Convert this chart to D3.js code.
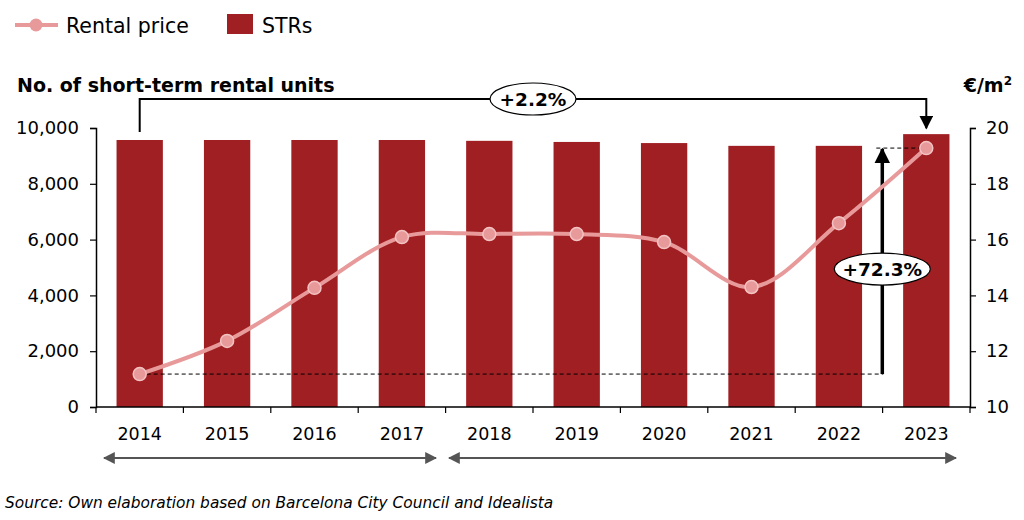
<!DOCTYPE html>
<html>
<head>
<meta charset="utf-8">
<script src="https://d3js.org/d3.v7.min.js"></script>
<style>
  body { margin: 0; background: #fff; }
  svg { font-family: "DejaVu Sans", sans-serif; }
</style>
</head>
<body>
<div id="chart"></div>
<script>
// Data
const years = ["2014", "2015", "2016", "2017", "2018", "2019", "2020", "2021", "2022", "2023"];
const strUnits = [9570, 9570, 9570, 9570, 9540, 9500, 9460, 9360, 9360, 9780];
const rentalPrice = [11.18, 12.37, 14.27, 16.09, 16.2, 16.2, 15.91, 14.3, 16.59, 19.28];
const leftTicks = [0, 2000, 4000, 6000, 8000, 10000];
const rightTicks = [10, 12, 14, 16, 18, 20];

const width = 1024, height = 520;
const margin = { top: 128, right: 54, bottom: 113, left: 96 };
const barColor = "#A01F22";
const lineColor = "#E89A9B";

const svg = d3.select("#chart").append("svg")
    .attr("width", width)
    .attr("height", height);

const x = d3.scaleBand()
    .domain(years)
    .range([margin.left, width - margin.right])
    .paddingInner(0.47)
    .paddingOuter(0.235);

const yLeft = d3.scaleLinear().domain([0, 10000]).range([height - margin.bottom, margin.top]);
const yRight = d3.scaleLinear().domain([10, 20]).range([height - margin.bottom, margin.top]);

// bars
svg.append("g")
    .selectAll("rect")
    .data(years)
    .enter()
    .append("rect")
    .attr("x", d => x(d))
    .attr("y", (d, i) => yLeft(strUnits[i]))
    .attr("width", x.bandwidth())
    .attr("height", (d, i) => yLeft(0) - yLeft(strUnits[i]))
    .attr("fill", barColor);

// axes
const bottom = height - margin.bottom;
const plotW = width - margin.right - margin.left;
const xAxis = svg.append("g")
    .attr("transform", `translate(0,${bottom})`);
xAxis.append("line")
    .attr("x1", margin.left).attr("x2", width - margin.right)
    .attr("y1", 0).attr("y2", 0)
    .attr("stroke", "#000").attr("stroke-width", 1.5);
xAxis.selectAll(".tk")
    .data(d3.range(years.length + 1))
    .enter()
    .append("line")
    .attr("x1", i => margin.left + i * plotW / years.length)
    .attr("x2", i => margin.left + i * plotW / years.length)
    .attr("y1", 0).attr("y2", 6)
    .attr("stroke", "#000").attr("stroke-width", 1.2);
xAxis.selectAll("text")
    .data(years)
    .enter()
    .append("text")
    .attr("x", d => x(d) + x.bandwidth() / 2)
    .attr("y", 33)
    .attr("text-anchor", "middle")
    .attr("font-size", 17.5)
    .text(d => d);

const leftAxis = svg.append("g")
    .attr("transform", `translate(${margin.left},0)`)
    .call(d3.axisLeft(yLeft).tickValues(leftTicks).tickSize(6).tickFormat(d3.format(",")));
const rightAxis = svg.append("g")
    .attr("transform", `translate(${width - margin.right},0)`)
    .call(d3.axisRight(yRight).tickValues(rightTicks).tickSize(6));
[leftAxis, rightAxis].forEach(a => {
    a.select(".domain").attr("stroke", "#000").attr("stroke-width", 1.5);
    a.selectAll(".tick line").attr("stroke", "#000").attr("stroke-width", 1.2);
    a.selectAll(".tick text")
        .attr("font-size", 18)
        .attr("font-family", "DejaVu Sans, sans-serif")
        .attr("fill", "#000");
});
leftAxis.selectAll(".tick text").attr("x", -17);
rightAxis.selectAll(".tick text").attr("x", 16);

// axis titles
svg.append("text")
    .attr("x", 17).attr("y", 92)
    .attr("font-size", 19).attr("font-weight", "bold")
    .text("No. of short-term rental units");
svg.append("text")
    .attr("x", 1012).attr("y", 92)
    .attr("text-anchor", "end")
    .attr("font-size", 19).attr("font-weight", "bold")
    .html("€/m<tspan font-size='12' dy='-7'>2</tspan>");

// arrow markers
const defs = svg.append("defs");
defs.append("marker")
    .attr("id", "blackHead")
    .attr("viewBox", "0 0 10 10")
    .attr("refX", 9).attr("refY", 5)
    .attr("markerWidth", 4.5).attr("markerHeight", 4.5)
    .attr("markerUnits", "strokeWidth")
    .attr("orient", "auto-start-reverse")
    .append("path").attr("d", "M0,0L10,5L0,10Z").attr("fill", "#000");
defs.append("marker")
    .attr("id", "smallHead")
    .attr("viewBox", "0 0 10 10")
    .attr("refX", 9).attr("refY", 5)
    .attr("markerWidth", 7).attr("markerHeight", 7)
    .attr("markerUnits", "strokeWidth")
    .attr("orient", "auto-start-reverse")
    .append("path").attr("d", "M0,0L10,5L0,10Z").attr("fill", "#000");
defs.append("marker")
    .attr("id", "grayHead")
    .attr("viewBox", "0 0 10 10")
    .attr("refX", 9).attr("refY", 5)
    .attr("markerWidth", 6).attr("markerHeight", 6)
    .attr("markerUnits", "strokeWidth")
    .attr("orient", "auto-start-reverse")
    .append("path").attr("d", "M0,0L10,5L0,10Z").attr("fill", "#555");

const cx = i => x(years[i]) + x.bandwidth() / 2;
const last = years.length - 1;

// dashed reference lines for rental price change
svg.append("line")
    .attr("x1", cx(0)).attr("x2", cx(last) - 43)
    .attr("y1", yRight(rentalPrice[0])).attr("y2", yRight(rentalPrice[0]))
    .attr("stroke", "#000").attr("stroke-width", 1).attr("stroke-dasharray", "4,3");
svg.append("line")
    .attr("x1", cx(last) - 50).attr("x2", cx(last))
    .attr("y1", yRight(rentalPrice[last])).attr("y2", yRight(rentalPrice[last]))
    .attr("stroke", "#000").attr("stroke-width", 1).attr("stroke-dasharray", "4,3");

// vertical +72.3% arrow
const arrowX = cx(last) - 44;
svg.append("line")
    .attr("x1", arrowX).attr("x2", arrowX)
    .attr("y1", yRight(rentalPrice[0])).attr("y2", yRight(rentalPrice[last]) + 1)
    .attr("stroke", "#000").attr("stroke-width", 3.5)
    .attr("marker-end", "url(#blackHead)");

// rental price line
const line = d3.line()
    .x((d, i) => cx(i))
    .y(d => yRight(d))
    .curve(d3.curveCatmullRom.alpha(0.5));
svg.append("path")
    .datum(rentalPrice)
    .attr("d", line)
    .attr("fill", "none")
    .attr("stroke", lineColor)
    .attr("stroke-width", 4);
svg.append("g")
    .selectAll("circle")
    .data(rentalPrice)
    .enter()
    .append("circle")
    .attr("cx", (d, i) => cx(i))
    .attr("cy", d => yRight(d))
    .attr("r", 6.5)
    .attr("fill", lineColor)
    .attr("stroke", "#F3C3C3")
    .attr("stroke-width", 1.5);

// +72.3% label
const midY = (yRight(rentalPrice[0]) + yRight(rentalPrice[last])) / 2 + 8;
svg.append("ellipse")
    .attr("cx", arrowX).attr("cy", midY)
    .attr("rx", 48).attr("ry", 16)
    .attr("fill", "#fff").attr("stroke", "#000").attr("stroke-width", 1.2);
svg.append("text")
    .attr("x", arrowX).attr("y", midY + 6.5)
    .attr("text-anchor", "middle")
    .attr("font-size", 18.5).attr("font-weight", "bold")
    .text("+72.3%");

// +2.2% bracket
const bracketY = 99;
svg.append("path")
    .attr("d", `M${cx(0)},${yLeft(strUnits[0]) - 8}V${bracketY}H${cx(last)}V${yLeft(strUnits[last]) - 6}`)
    .attr("fill", "none")
    .attr("stroke", "#000").attr("stroke-width", 2)
    .attr("marker-end", "url(#smallHead)");
const midX = (cx(0) + cx(last)) / 2;
svg.append("ellipse")
    .attr("cx", midX).attr("cy", bracketY)
    .attr("rx", 43).attr("ry", 16)
    .attr("fill", "#fff").attr("stroke", "#000").attr("stroke-width", 1.2);
svg.append("text")
    .attr("x", midX).attr("y", bracketY + 6.5)
    .attr("text-anchor", "middle")
    .attr("font-size", 18.5).attr("font-weight", "bold")
    .text("+2.2%");

// period arrows under the axis
const periodY = 458;
svg.append("line")
    .attr("x1", 104).attr("x2", 436)
    .attr("y1", periodY).attr("y2", periodY)
    .attr("stroke", "#555").attr("stroke-width", 2)
    .attr("marker-start", "url(#grayHead)")
    .attr("marker-end", "url(#grayHead)");
svg.append("line")
    .attr("x1", 449).attr("x2", 956)
    .attr("y1", periodY).attr("y2", periodY)
    .attr("stroke", "#555").attr("stroke-width", 2)
    .attr("marker-start", "url(#grayHead)")
    .attr("marker-end", "url(#grayHead)");

// legend
const legend = svg.append("g");
legend.append("line")
    .attr("x1", 15).attr("x2", 58).attr("y1", 25).attr("y2", 25)
    .attr("stroke", lineColor).attr("stroke-width", 4);
legend.append("circle")
    .attr("cx", 36).attr("cy", 25).attr("r", 6.5)
    .attr("fill", lineColor);
legend.append("text")
    .attr("x", 66).attr("y", 33)
    .attr("font-size", 20.5)
    .text("Rental price");
legend.append("rect")
    .attr("x", 227).attr("y", 14).attr("width", 26).attr("height", 20)
    .attr("fill", barColor);
legend.append("text")
    .attr("x", 262).attr("y", 33)
    .attr("font-size", 20.5)
    .text("STRs");

// source
svg.append("text")
    .attr("x", 5).attr("y", 508)
    .attr("font-size", 15.4).attr("font-style", "italic")
    .text("Source: Own elaboration based on Barcelona City Council and Idealista");
</script>
</body>
</html>
